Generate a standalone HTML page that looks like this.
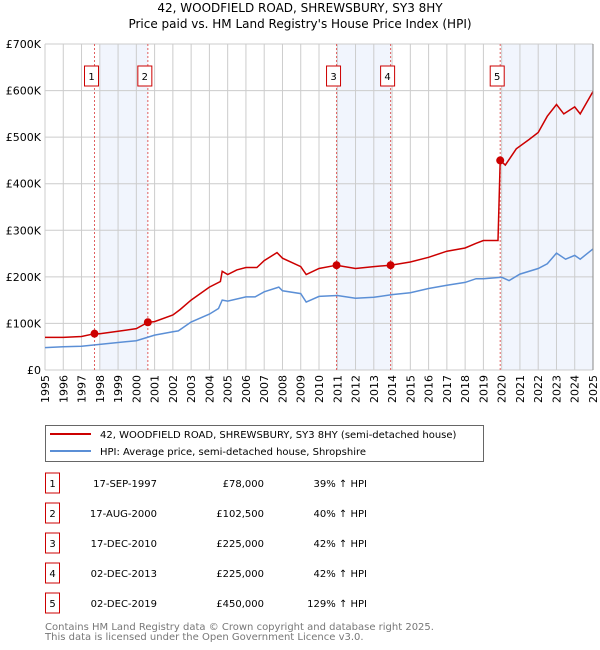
<!DOCTYPE html>
<html><head><meta charset="utf-8">
<style>
body{margin:0;background:#fff;font-family:"DejaVu Sans","Liberation Sans",sans-serif;}
svg{display:block}
</style></head>
<body>
<svg id="chart" width="600" height="650" xmlns="http://www.w3.org/2000/svg" font-family="DejaVu Sans, Liberation Sans, sans-serif">
<text x="300" y="12" text-anchor="middle" font-size="12">42, WOODFIELD ROAD, SHREWSBURY, SY3 8HY</text>
<text x="300" y="28" text-anchor="middle" font-size="12">Price paid vs. HM Land Registry's House Price Index (HPI)</text>
<g id="shade"></g><g id="grid"></g><g id="vlines"></g><g id="series"></g><g id="marks"></g><g id="axes"></g>
<g>
<rect x="45.5" y="425.5" width="438" height="36" fill="#fff" stroke="#666"/>
<line x1="50" y1="434" x2="91" y2="434" stroke="#cc0000" stroke-width="2"/>
<text x="100" y="438" font-size="10">42, WOODFIELD ROAD, SHREWSBURY, SY3 8HY (semi-detached house)</text>
<line x1="50" y1="451" x2="91" y2="451" stroke="#5b8fd6" stroke-width="2"/>
<text x="100" y="455" font-size="10">HPI: Average price, semi-detached house, Shropshire</text>
</g>
<g id="table" font-size="10"></g>
<text x="45" y="630" font-size="10" fill="#777">Contains HM Land Registry data © Crown copyright and database right 2025.</text>
<text x="45" y="640" font-size="10" fill="#777">This data is licensed under the Open Government Licence v3.0.</text>
</svg>
<script>
const hpiYears=[1995,1996,1997,1998,1999,2000,2000.6,2001,2002,2002.3,2003,2004,2004.5,2004.7,2005,2006,2006.5,2007,2007.8,2008,2009,2009.3,2010,2011,2012,2013,2014,2015,2016,2017,2018,2018.6,2019,2020,2020.4,2021,2022,2022.5,2023,2023.5,2024,2024.3,2025];
const hpiValues=[48,50,51,55,59,63,70,75,82,84,103,120,132,150,148,157,157,168,178,170,164,146,158,160,154,156,162,166,175,182,188,196,196,199,192,206,218,228,251,238,246,238,260];
const redYears=[1995,1996,1997,1997.71,1998,1999,2000,2000.63,2001,2002,2002.4,2003,2004,2004.6,2004.7,2005,2005.5,2006,2006.6,2007,2007.7,2008,2009,2009.3,2010,2010.96,2012,2013,2013.92,2015,2016,2017,2018,2018.6,2019,2019.8,2019.92,2020.2,2020.8,2021.5,2022,2022.5,2023,2023.4,2024,2024.3,2025];
const redValues=[70,70,72,78,78,83,89,102.5,104,118,130,150,178,190,212,205,215,220,220,235,252,240,222,205,218,225,218,222,225,232,242,255,262,272,278,278,450,440,475,495,510,545,570,550,565,550,598];
const saleYears=[1997.71,2000.63,2010.96,2013.92,2019.92];
const saleValues=[78,102.5,225,225,450];
const saleLabels=["1","2","3","4","5"];
const saleDates=["17-SEP-1997","17-AUG-2000","17-DEC-2010","02-DEC-2013","02-DEC-2019"];
const salePrices=["£78,000","£102,500","£225,000","£225,000","£450,000"];
const saleHpi=["39% ↑ HPI","40% ↑ HPI","42% ↑ HPI","42% ↑ HPI","129% ↑ HPI"];
const shadeStarts=[1998,2011,2020];
const shadeEnds=[2000.63,2013.92,2025];
const yTicks=[0,100,200,300,400,500,600,700];
const yTickLabels=["£0","£100K","£200K","£300K","£400K","£500K","£600K","£700K"];

const NS="http://www.w3.org/2000/svg";
const X0=45,X1=593,Y0=370,Y1=44;
const xs=y=>X0+(y-1995)/30*(X1-X0);
const ys=v=>Y0-v/700*(Y0-Y1);
function mk(tag,attrs,parent){const e=document.createElementNS(NS,tag);for(const k in attrs)e.setAttribute(k,attrs[k]);document.getElementById(parent).appendChild(e);return e;}

shadeStarts.forEach((s,i)=>{
 const r=mk('rect',{x:xs(s),y:Y1,width:xs(shadeEnds[i])-xs(s),height:Y0-Y1,fill:'#eef3fc',opacity:0.8},'shade');
 
 
});
for(let yr=1995;yr<=2025;yr++){
 const l=mk('line',{x1:xs(yr),x2:xs(yr),y1:Y1,y2:Y0,stroke:'#ccc','stroke-width':1},'grid');
 
 
 const t=mk('text',{x:0,y:0,'font-size':11,'text-anchor':'end',transform:`translate(${xs(yr)+4},${Y0+5}) rotate(-90)`},'axes');
 t.textContent=yr;
 
 
}
yTicks.forEach((v,i)=>{
 const l=mk('line',{x1:X0,x2:X1,y1:ys(v),y2:ys(v),stroke:'#ccc','stroke-width':1},'grid');
 
 
 const t=mk('text',{x:X0-4,y:ys(v)+4,'font-size':11,'text-anchor':'end'},'axes');
 t.textContent=yTickLabels[i];
 
 
});
const ax=mk('line',{x1:X1,x2:X1,y1:Y1,y2:Y0,stroke:'#888'},'axes');



function path(xa,va){return xa.map((x,i)=>(i?'L':'M')+xs(x).toFixed(1)+','+ys(va[i]).toFixed(1)).join('');}
const hp=mk('path',{d:path(hpiYears,hpiValues),fill:'none',stroke:'#5b8fd6','stroke-width':1.5},'series');


const rp=mk('path',{d:path(redYears,redValues),fill:'none',stroke:'#cc0000','stroke-width':1.5},'series');



saleYears.forEach((y,i)=>{
 const x=xs(y);
 const l=mk('line',{x1:x,x2:x,y1:Y1,y2:Y0,stroke:'#e06060','stroke-dasharray':'2,2','stroke-width':1},'vlines');
 
 
 const b=mk('rect',{x:x-10,y:66,width:14,height:20,fill:'#fff',stroke:'#cc0000'},'marks');
 
 
 const t=mk('text',{x:x-3,y:80,'font-size':10,'text-anchor':'middle'},'marks');
 t.textContent=saleLabels[i];
 
 
 const c=mk('circle',{cx:x,cy:ys(saleValues[i]),r:4,fill:'#cc0000'},'marks');
 
 
 const ry=483+i*30;
 const tb=mk('rect',{x:45.5,y:ry-10,width:14,height:20,fill:'#fff',stroke:'#cc0000'},'table');
 
 
 const tn=mk('text',{x:52.5,y:ry+4,'text-anchor':'middle'},'table');
 tn.textContent=saleLabels[i];
 
 
 const td=mk('text',{x:157,y:ry+4,'text-anchor':'end'},'table');
 td.textContent=saleDates[i];
 
 
 const tp=mk('text',{x:264,y:ry+4,'text-anchor':'end'},'table');
 tp.textContent=salePrices[i];
 
 
 const th=mk('text',{x:367,y:ry+4,'text-anchor':'end'},'table');
 th.textContent=saleHpi[i];
 
 
});
</script>
</body></html>
